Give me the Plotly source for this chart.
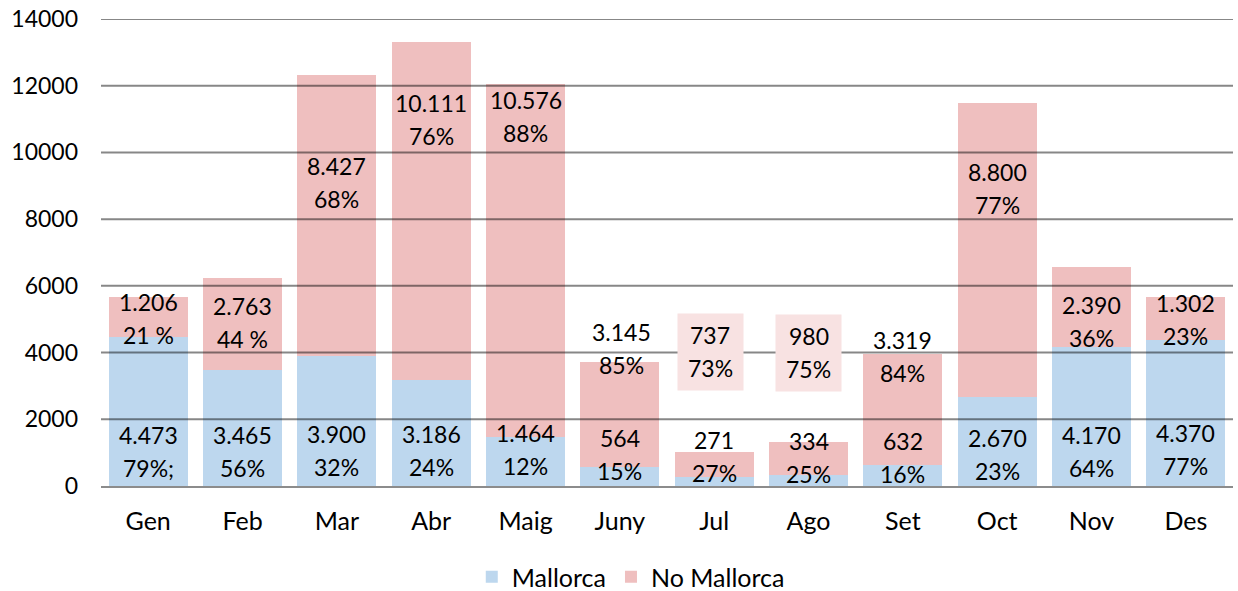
import plotly.graph_objects as go

months = ["Gen", "Feb", "Mar", "Abr", "Maig", "Juny", "Jul", "Ago", "Set", "Oct", "Nov", "Des"]
mallorca = [4473, 3465, 3900, 3186, 1464, 564, 271, 334, 632, 2670, 4170, 4370]
no_mallorca = [1206, 2763, 8427, 10111, 10576, 3145, 737, 980, 3319, 8800, 2390, 1302]
pct_mallorca = ["79%;", "56%", "32%", "24%", "12%", "15%", "27%", "25%", "16%", "23%", "64%", "77%"]
pct_no_mallorca = ["21 %", "44 %", "68%", "76%", "88%", "85%", "73%", "75%", "84%", "77%", "36%", "23%"]
y_ticks = [0, 2000, 4000, 6000, 8000, 10000, 12000, 14000]
y_tick_text = ["0", "2000", "4000", "6000", "8000", "10000", "12000", "14000"]

# label centre positions (axis units) and styling
label_y_m = [1020, 1020, 1050, 1050, 1080, 940, 870, 840, 850, 930, 1020, 1080]
label_y_nm = [5036, 4900, 9084, 10994, 11064, 4117, 4018, 3990, 3877, 8904, 4917, 4991]
label_dx_nm = [0, 0, 0, 0, 0, 2, -4, 0, 0, 0, 0, 0]
boxed = [False] * 6 + [True, True] + [False] * 4

BLUE = "#BDD7EE"
PINK = "#EFBFBF"
BOX = "#F8E2E2"
FONT = "Lato"
FS = 23
FS_TXT = 25

def fmt(v):
    return f"{v:,}".replace(",", ".")

fig = go.Figure()
fig.add_trace(go.Bar(x=months, y=mallorca, name="Mallorca", marker=dict(color=BLUE, line=dict(width=0))))
fig.add_trace(go.Bar(x=months, y=no_mallorca, name="No Mallorca", marker=dict(color=PINK, line=dict(width=0))))

ann = []
half = 16.5
for i, m in enumerate(months):
    ann.append(dict(x=m, y=label_y_m[i], text=fmt(mallorca[i]), yshift=half, showarrow=False,
                    font=dict(family=FONT, size=FS, color="#000")))
    ann.append(dict(x=m, y=label_y_m[i], text=pct_mallorca[i], yshift=-half, showarrow=False,
                    font=dict(family=FONT, size=FS, color="#000")))
    if boxed[i]:
        ann.append(dict(x=m, y=label_y_nm[i], text=" ", xshift=label_dx_nm[i], showarrow=False,
                        width=63, height=74, bgcolor=BOX, font=dict(size=4)))
    ann.append(dict(x=m, y=label_y_nm[i], text=fmt(no_mallorca[i]), yshift=half, xshift=label_dx_nm[i],
                    showarrow=False, font=dict(family=FONT, size=FS, color="#000")))
    ann.append(dict(x=m, y=label_y_nm[i], text=pct_no_mallorca[i], yshift=-half, xshift=label_dx_nm[i],
                    showarrow=False, font=dict(family=FONT, size=FS, color="#000")))

shapes = []
for t in y_ticks[1:]:
    shapes.append(dict(type="line", xref="paper", x0=0, x1=1, yref="y", y0=t, y1=t, layer="above",
                       line=dict(color="rgba(0,0,0,0.47)", width=2)))

fig.update_layout(
    barmode="stack",
    bargap=0.16,
    width=1238,
    height=591,
    margin=dict(l=101, r=5, t=19, b=105, autoexpand=False),
    paper_bgcolor="white",
    plot_bgcolor="white",
    font=dict(family=FONT, size=FS, color="#000"),
    annotations=ann,
    shapes=shapes,
    showlegend=True,
    hovermode=False,
    legend=dict(orientation="h", x=0.468, xanchor="center", y=-0.195, yanchor="middle",
                font=dict(family=FONT, size=FS_TXT, color="#000"), itemwidth=30, traceorder="normal"),
    xaxis=dict(showgrid=False, showline=True, linecolor="#8c8c8c", linewidth=2, automargin=False,
               ticks="", ticklabelstandoff=12, tickfont=dict(family=FONT, size=FS_TXT, color="#000")),
    yaxis=dict(range=[0, 14000], tickvals=y_ticks, ticktext=y_tick_text, showgrid=False, zeroline=False,
               showline=False, automargin=False, ticklabeloverflow="allow",
               ticks="", ticklabelstandoff=22, tickfont=dict(family=FONT, size=FS, color="#000")),
)

fig.write_html("out.html", config={"displayModeBar": False},
               post_script="document.body.style.margin='0';")
